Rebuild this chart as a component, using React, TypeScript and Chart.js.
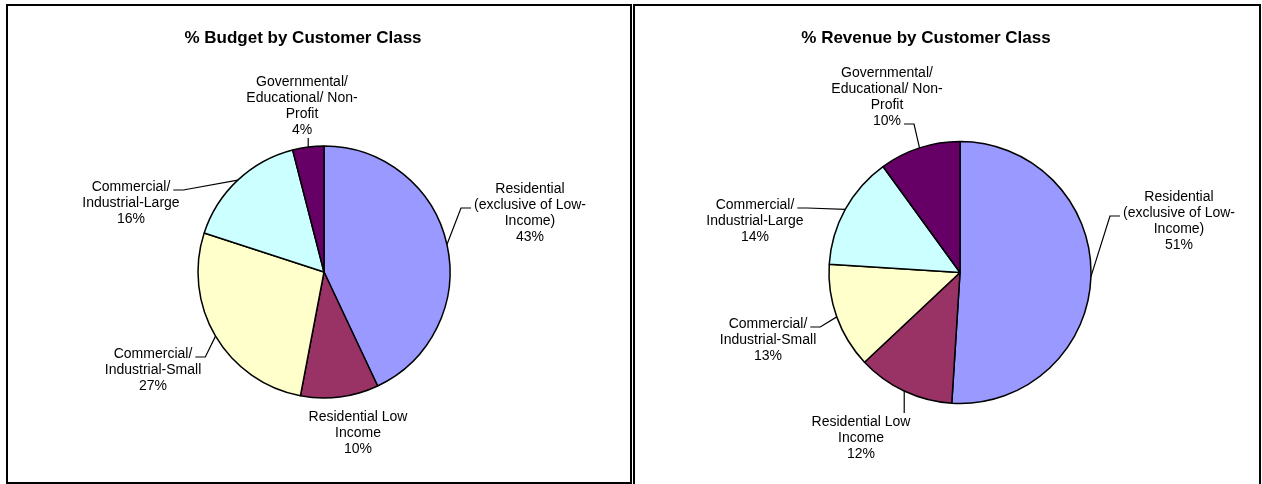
import React, { useEffect, useRef } from "react";
import { Chart, registerables } from "chart.js";

Chart.register(...registerables);

// ---- data ----
const categories = [
  "Residential\n(exclusive of Low-\nIncome)",
  "Residential Low\nIncome",
  "Commercial/\nIndustrial-Small",
  "Commercial/\nIndustrial-Large",
  "Governmental/\nEducational/ Non-\nProfit",
];
const budgetValues = [43, 10, 27, 16, 4];
const revenueValues = [51, 12, 13, 14, 10];
const sliceColors = ["#9999FF", "#993366", "#FFFFCC", "#CCFFFF", "#660066"];
const budgetTitle = "% Budget by Customer Class";
const revenueTitle = "% Revenue by Customer Class";

// ---- layout ----
type LabelLayout = { dx: number; dy: number; leader: "elbow" | "vertical" | "none"; line?: number };
type Panel = {
  left: number; top: number; width: number; height: number;
  cx: number; cy: number; r: number; titleX: number; titleY: number;
};

const budgetPanel: Panel = { left: 6, top: 4, width: 626, height: 480, cx: 318, cy: 268, r: 126, titleX: 297, titleY: 39 };
const revenuePanel: Panel = { left: 633, top: 4, width: 628, height: 483, cx: 327, cy: 268.5, r: 131, titleX: 293, titleY: 39 };

const budgetLabelLayout: LabelLayout[] = [
  { dx: 206, dy: -79, leader: "elbow", line: 1 },
  { dx: 34, dy: 149, leader: "none" },
  { dx: -171, dy: 86, leader: "elbow", line: 0 },
  { dx: -193, dy: -81, leader: "elbow", line: 0 },
  { dx: -22, dy: -186, leader: "vertical" },
];
const revenueLabelLayout: LabelLayout[] = [
  { dx: 219, dy: -71.5, leader: "elbow", line: 1 },
  { dx: -99, dy: 153.5, leader: "vertical" },
  { dx: -192, dy: 55.5, leader: "elbow", line: 0 },
  { dx: -205, dy: -63.5, leader: "elbow", line: 0 },
  { dx: -73, dy: -195.5, leader: "elbow", line: 3 },
];

const LINE_H = 16;
const LABEL_FONT = "14px 'Liberation Sans', Arial, sans-serif";
const TITLE_FONT = "bold 17px 'Liberation Sans', Arial, sans-serif";

function makeLabelPlugin(title: string, panel: Panel, layout: LabelLayout[]) {
  return {
    id: "pieLabels",
    afterDatasetsDraw(chart: any) {
      const ctx: CanvasRenderingContext2D = chart.ctx;
      const meta = chart.getDatasetMeta(0);
      const data: number[] = chart.data.datasets[0].data;
      const total = data.reduce((a, b) => a + b, 0);
      ctx.save();
      ctx.fillStyle = "#000";
      ctx.strokeStyle = "#000";
      ctx.lineWidth = 1.2;
      // title
      ctx.font = TITLE_FONT;
      ctx.textAlign = "center";
      ctx.textBaseline = "alphabetic";
      ctx.fillText(title, panel.titleX, panel.titleY);

      ctx.font = LABEL_FONT;
      meta.data.forEach((arc: any, i: number) => {
        const p = arc.getProps(["x", "y", "startAngle", "endAngle", "outerRadius"], true);
        const mid = (p.startAngle + p.endAngle) / 2;
        const ex = p.x + Math.cos(mid) * p.outerRadius;
        const ey = p.y + Math.sin(mid) * p.outerRadius;
        const pct = Math.round((data[i] / total) * 100);
        const lines = [...String(chart.data.labels[i]).split("\n"), pct + "%"];
        const L = layout[i];
        const tx = p.x + L.dx;
        const by = p.y + L.dy;
        lines.forEach((s, k) => ctx.fillText(s, tx, by + k * LINE_H));

        ctx.beginPath();
        if (L.leader === "elbow") {
          const li = L.line ?? 0;
          const ly = by + li * LINE_H - 1;
          const w = ctx.measureText(lines[li]).width;
          const gap = 3;
          let endX: number, elbowX: number;
          if (tx > ex) {
            endX = tx - w / 2 - gap;
            elbowX = endX - 10;
          } else {
            endX = tx + w / 2 + gap;
            elbowX = endX + 10;
          }
          ctx.moveTo(ex, ey);
          ctx.lineTo(elbowX, ly);
          ctx.lineTo(endX, ly);
          ctx.stroke();
        } else if (L.leader === "vertical") {
          let endY: number;
          if (by < ey) endY = by + (lines.length - 1) * LINE_H + 4;
          else endY = by - 13;
          ctx.moveTo(ex, ey);
          ctx.lineTo(ex, endY);
          ctx.stroke();
        }
      });
      ctx.restore();
    },
  };
}

function PiePanel({ panel, values, title, layout }: { panel: Panel; values: number[]; title: string; layout: LabelLayout[] }) {
  const ref = useRef<HTMLCanvasElement>(null);
  useEffect(() => {
    const half = 200;
    const chart = new Chart(ref.current!, {
      type: "pie",
      data: {
        labels: categories,
        datasets: [
          {
            data: values,
            backgroundColor: sliceColors,
            borderColor: "#000",
            borderWidth: 1.5,
            hoverOffset: 0,
            offset: 0,
          },
        ],
      },
      options: {
        animation: false,
        responsive: false,
        events: [],
        radius: panel.r,
        layout: {
          padding: {
            left: panel.cx - half,
            right: panel.width - panel.cx - half,
            top: panel.cy - panel.r,
            bottom: panel.height - panel.cy - panel.r,
          },
        },
        plugins: {
          legend: { display: false },
          tooltip: { enabled: false },
          title: { display: false },
        },
      } as any,
      plugins: [makeLabelPlugin(title, panel, layout)],
    });
    return () => chart.destroy();
  }, []);
  const box: React.CSSProperties = {
    position: "absolute",
    left: panel.left,
    top: panel.top,
    width: panel.width,
    height: panel.height,
  };
  return (
    <>
      <div style={{ ...box, border: "2px solid #000", boxSizing: "border-box" }} />
      <canvas ref={ref} width={panel.width} height={panel.height} style={box} />
    </>
  );
}

export default function App() {
  return (
    <div>
      <PiePanel panel={budgetPanel} values={budgetValues} title={budgetTitle} layout={budgetLabelLayout} />
      <PiePanel panel={revenuePanel} values={revenueValues} title={revenueTitle} layout={revenueLabelLayout} />
    </div>
  );
}
